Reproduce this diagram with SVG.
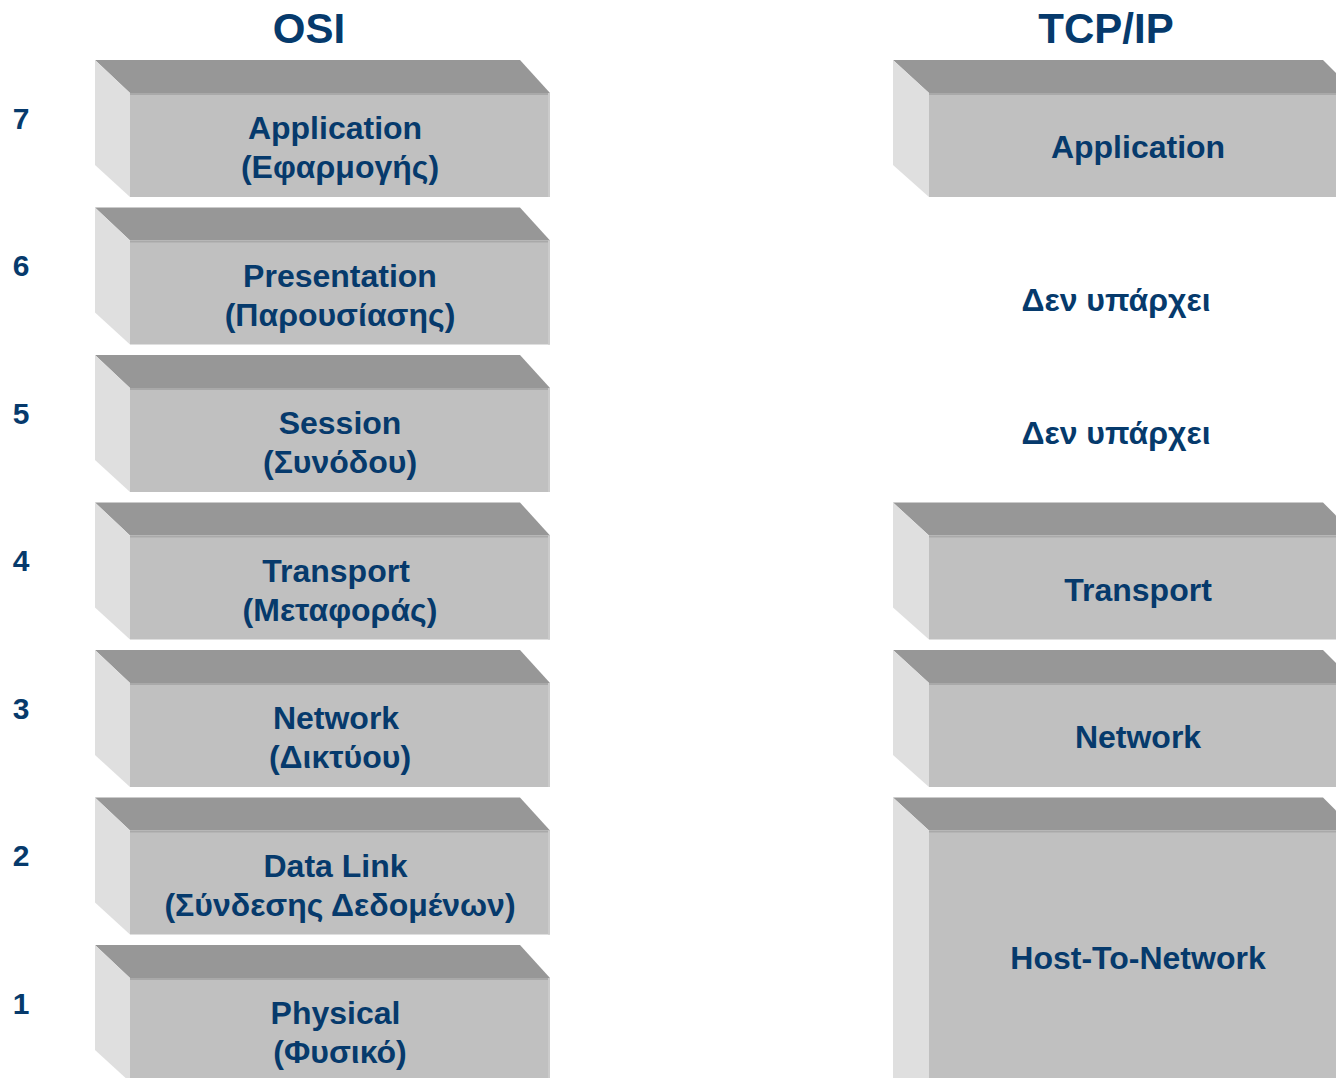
<svg xmlns="http://www.w3.org/2000/svg" xmlns:xlink="http://www.w3.org/1999/xlink" width="1336" height="1078" viewBox="0 0 1336 1078">
<style>
.top{fill:#979797}
.left{fill:#dfdfdf}
.front{fill:#c0c0c0}
.edge{fill:#cbcbcb}
.seam{fill:#a9a9a9}
text{font-family:"Liberation Sans",Arial,"Noto Sans",sans-serif;font-weight:bold;fill:#063a6c;text-anchor:middle}
.lbl{font-size:32px}
.num{font-size:30px}
.title{font-size:42px}
</style>
<defs>
<g id="osiBlock">
<polygon class="top" points="95,0 520,0 550,33 130,33"/>
<polygon class="left" points="95,0 130,33 130,137 95,105"/>
<rect class="front" x="130" y="33" width="420" height="104"/>
<rect class="seam" x="130" y="33" width="420" height="2"/>
<rect class="edge" x="548" y="33" width="2" height="104"/>
</g>
<g id="tcpBlock">
<polygon class="top" points="893,0 1323,0 1356,33 929,33"/>
<polygon class="left" points="893,0 929,33 929,137 893,105"/>
<rect class="front" x="929" y="33" width="430" height="104"/>
<rect class="seam" x="929" y="33" width="430" height="2"/>
</g>
</defs>
<rect width="1336" height="1078" fill="#ffffff"/>
<g id="titles">
<text class="title" x="309" y="43">OSI</text>
<text class="title" x="1106" y="43">TCP/IP</text>
</g>
<g id="numbers">
<text class="num" x="21" y="129">7</text>
<text class="num" x="21" y="276">6</text>
<text class="num" x="21" y="424">5</text>
<text class="num" x="21" y="571">4</text>
<text class="num" x="21" y="719">3</text>
<text class="num" x="21" y="866">2</text>
<text class="num" x="21" y="1014">1</text>
</g>
<g id="osi-7" transform="translate(0,60)">
<use xlink:href="#osiBlock"/>
<text class="lbl" x="335" y="79">Application</text>
<text class="lbl" x="340" y="118">(Εφαρμογής)</text>
</g>
<g id="osi-6" transform="translate(0,207.5)">
<use xlink:href="#osiBlock"/>
<text class="lbl" x="340" y="79">Presentation</text>
<text class="lbl" x="340" y="118">(Παρουσίασης)</text>
</g>
<g id="osi-5" transform="translate(0,355)">
<use xlink:href="#osiBlock"/>
<text class="lbl" x="340" y="79">Session</text>
<text class="lbl" x="340" y="118">(Συνόδου)</text>
</g>
<g id="osi-4" transform="translate(0,502.5)">
<use xlink:href="#osiBlock"/>
<text class="lbl" x="336" y="79">Transport</text>
<text class="lbl" x="340" y="118">(Μεταφοράς)</text>
</g>
<g id="osi-3" transform="translate(0,650)">
<use xlink:href="#osiBlock"/>
<text class="lbl" x="336" y="79">Network</text>
<text class="lbl" x="340" y="118">(Δικτύου)</text>
</g>
<g id="osi-2" transform="translate(0,797.5)">
<use xlink:href="#osiBlock"/>
<text class="lbl" x="335.5" y="79">Data Link</text>
<text class="lbl" x="340" y="118">(Σύνδεσης Δεδομένων)</text>
</g>
<g id="osi-1" transform="translate(0,945)">
<use xlink:href="#osiBlock"/>
<text class="lbl" x="335.5" y="79">Physical</text>
<text class="lbl" x="340" y="118">(Φυσικό)</text>
</g>
<g id="tcp-application" transform="translate(0,60)">
<use xlink:href="#tcpBlock"/>
<text class="lbl" x="1138" y="98">Application</text>
</g>
<g id="tcp-none-6">
<text class="lbl" x="1116" y="311">Δεν υπάρχει</text>
</g>
<g id="tcp-none-5">
<text class="lbl" x="1116" y="444">Δεν υπάρχει</text>
</g>
<g id="tcp-transport" transform="translate(0,502.5)">
<use xlink:href="#tcpBlock"/>
<text class="lbl" x="1138" y="98">Transport</text>
</g>
<g id="tcp-network" transform="translate(0,650)">
<use xlink:href="#tcpBlock"/>
<text class="lbl" x="1138" y="98">Network</text>
</g>
<g id="tcp-host" transform="translate(0,797.5)">
<polygon class="top" points="893,0 1323,0 1356,33 929,33"/>
<polygon class="left" points="893,0 929,33 929,300 893,300"/>
<rect class="front" x="929" y="33" width="430" height="270"/>
<rect class="seam" x="929" y="33" width="430" height="2"/>
<text class="lbl" x="1138" y="171">Host-To-Network</text>
</g>
<g id="connectors"/>
</svg>
